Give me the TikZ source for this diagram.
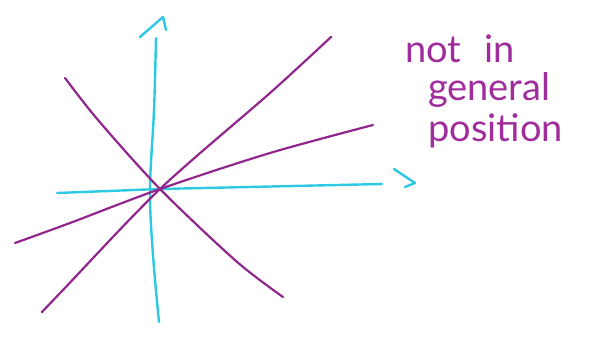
\documentclass[tikz,border=0pt]{standalone}
\usepackage{fontspec}
\setmainfont{Lato}
\begin{document}
\begin{tikzpicture}[x=1pt,y=-1pt,
  axis/.style={draw=axcyan,line width=2.4pt,line cap=round,line join=round},
  pline/.style={draw=lpurple,line width=2.2pt,line cap=round,line join=round},
  hand/.style={text=tpurple,font=\fontsize{38}{40}\selectfont,anchor=base west,inner sep=0pt}]
\definecolor{axcyan}{RGB}{45,200,228}
\definecolor{lpurple}{RGB}{145,38,140}
\definecolor{tpurple}{RGB}{160,45,155}
\useasboundingbox (0,0) rectangle (596,339);
% axes
\coordinate (vb) at (159,322);
\coordinate (vt) at (156,38);
\coordinate (va1) at (140,37);
\coordinate (va2) at (163,17);
\coordinate (va3) at (166,30);
\coordinate (hl) at (57,193);
\coordinate (hr) at (382,184);
\coordinate (ha1) at (394,169);
\coordinate (ha2) at (415,183);
\coordinate (ha3) at (405,187);
\coordinate (ctr) at (160,189);
\draw[axis] plot[smooth,tension=0.6] coordinates {(vt) (154,110) (150,190) (153,255) (vb)};
\draw[axis] (va1) -- (va2) -- (va3);
\draw[axis] (hl) -- (ctr) -- (hr);
\draw[axis] (ha1) -- (ha2) -- (ha3);
% purple lines
\coordinate (a1) at (65,78);
\coordinate (a2) at (283,297);
\coordinate (b1) at (42,312);
\coordinate (b2) at (331,37);
\coordinate (c1) at (15,243);
\coordinate (c2) at (373,125);
\draw[pline] plot[smooth,tension=0.5] coordinates {(a1) (98,120) (ctr) (236,261) (a2)};
\draw[pline] plot[smooth,tension=0.5] coordinates {(b1) (63,290) (ctr) (270,93) (b2)};
\draw[pline] plot[smooth,tension=0.5] coordinates {(c1) (70,223) (ctr) (270,153) (c2)};
% text
\node[hand] (t1) at (405,63) {not\hspace{0.6em}in};
\node[hand] (t2) at (428,101) {general};
\node[hand] (t3) at (428,142) {position};
\end{tikzpicture}
\end{document}
